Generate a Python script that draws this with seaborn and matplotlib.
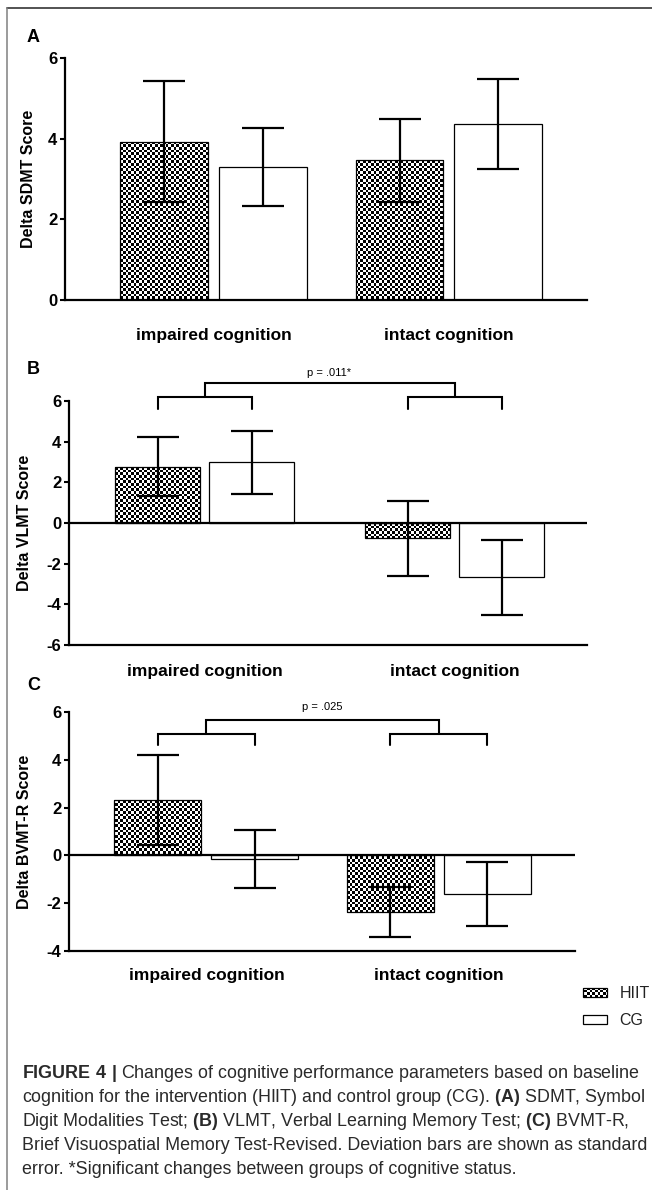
import numpy as np
import pandas as pd
import matplotlib
matplotlib.use("Agg")
import matplotlib.pyplot as plt
from matplotlib.lines import Line2D
from matplotlib.patches import Rectangle
import seaborn as sns

# --- DATA ---
COGNITION = ["impaired cognition", "intact cognition"]
GROUPS = ["HIIT", "CG"]

SDMT_HIIT = [3.92, 3.46]
SDMT_HIIT_SE = [1.50, 1.03]
SDMT_CG = [3.30, 4.36]
SDMT_CG_SE = [0.97, 1.12]

VLMT_HIIT = [2.77, -0.75]
VLMT_HIIT_SE = [1.46, 1.85]
VLMT_CG = [2.98, -2.67]
VLMT_CG_SE = [1.54, 1.83]

BVMT_HIIT = [2.33, -2.38]
BVMT_HIIT_SE = [1.89, 1.05]
BVMT_CG = [-0.15, -1.61]
BVMT_CG_SE = [1.22, 1.33]

Y_LABELS = ["Delta SDMT Score", "Delta VLMT Score", "Delta BVMT-R Score"]
Y_TICKS = [[0, 2, 4, 6], [-6, -4, -2, 0, 2, 4, 6], [-4, -2, 0, 2, 4, 6]]
P_LABELS = [None, "p = .011*", "p = .025"]

CAPTION = [
    r"$\mathbf{FIGURE\ 4\ |}$ Changes of cognitive performance parameters based on baseline",
    r"cognition for the intervention (HIIT) and control group (CG). $\mathbf{(A)}$ SDMT, Symbol",
    r"Digit Modalities Test; $\mathbf{(B)}$ VLMT, Verbal Learning Memory Test; $\mathbf{(C)}$ BVMT-R,",
    r"Brief Visuospatial Memory Test-Revised. Deviation bars are shown as standard",
    r"error. *Significant changes between groups of cognitive status.",
]
# ---------------------

W, H, DPI = 652, 1190, 100

# layout of each panel in figure pixels (left, top, right, bottom)
PANELS = [
    dict(letter="A", letter_y=37, box=(65, 58, 587, 300), ylim=(0, 6), xlim=(-0.63, 1.586),
         width=0.838, gap=0.112, label_x=36, pad=20, bracket=None),
    dict(letter="B", letter_y=370, box=(69, 401, 587, 645), ylim=(-6, 6), xlim=(-0.542, 1.53),
         width=0.752, gap=0.106, label_x=32, pad=13.5,
         bracket=dict(leg=5.6, low=6.19, high=6.88, text=7.38)),
    dict(letter="C", letter_y=685, box=(69, 712, 575, 951), ylim=(-4, 6), xlim=(-0.591, 1.585),
         width=0.834, gap=0.103, label_x=32, pad=12,
         bracket=dict(leg=4.6, low=5.10, high=5.65, text=6.19)),
]
SERIES = [
    (SDMT_HIIT, SDMT_HIIT_SE, SDMT_CG, SDMT_CG_SE),
    (VLMT_HIIT, VLMT_HIIT_SE, VLMT_CG, VLMT_CG_SE),
    (BVMT_HIIT, BVMT_HIIT_SE, BVMT_CG, BVMT_CG_SE),
]

sns.set_theme(style="ticks")
plt.rcParams["font.family"] = ["Liberation Sans", "DejaVu Sans"]
plt.rcParams["axes.unicode_minus"] = False
plt.rcParams["mathtext.fontset"] = "custom"
plt.rcParams["mathtext.rm"] = "Liberation Sans"
plt.rcParams["mathtext.bf"] = "Liberation Sans:bold"


def fig_box(left, top, right, bottom):
    return [left / W, 1 - bottom / H, (right - left) / W, (bottom - top) / H]


fig = plt.figure(figsize=(W / DPI, H / DPI), dpi=DPI)
fig.patch.set_facecolor("white")

# checkerboard texture for the HIIT bars (cells ~2.7 px)
yy, xx = np.mgrid[0:H, 0:W]
checker = ((xx * 3 // 8 + yy * 3 // 8) % 2).astype(float)
hiit_patches = []

for cfg, (hiit, hiit_se, cg, cg_se), ylabel, yticks, ptxt in zip(PANELS, SERIES, Y_LABELS, Y_TICKS, P_LABELS):
    ax = fig.add_axes(fig_box(*cfg["box"]))
    ax.patch.set_visible(False)

    df = pd.DataFrame({
        "cognition": COGNITION * 2,
        "group": ["HIIT"] * 2 + ["CG"] * 2,
        "delta": hiit + cg,
    })
    sns.barplot(data=df, x="cognition", y="delta", hue="group", order=COGNITION,
                hue_order=GROUPS, palette={"HIIT": "white", "CG": "white"}, saturation=1,
                width=cfg["width"], gap=cfg["gap"], errorbar=None, edgecolor="black",
                linewidth=0.9, legend=False, ax=ax)

    centers = []
    for container, means, ses in zip(ax.containers, [hiit, cg], [hiit_se, cg_se]):
        xs = [b.get_x() + b.get_width() / 2 for b in container]
        centers.append(xs)
        ax.errorbar(xs, means, yerr=ses, fmt="none", ecolor="black", elinewidth=1.6,
                    capsize=15, capthick=1.6, zorder=3)
    for b in ax.containers[0]:
        b.set_facecolor("none")
        hiit_patches.append(b)

    ax.set_xlim(*cfg["xlim"])
    ax.set_ylim(*cfg["ylim"])
    ax.set_yticks(yticks)
    ax.set_xlabel("")
    ax.set_ylabel(ylabel, fontsize=11.5, fontweight="bold", color="black")
    l, t, r, b_ = cfg["box"]
    ax.yaxis.set_label_coords((cfg["label_x"] - l) / (r - l), 0.5)
    sns.despine(ax=ax)
    for side in ["left", "bottom"]:
        ax.spines[side].set_linewidth(1.6)
        ax.spines[side].set_color("black")
    if cfg["ylim"][0] < 0:
        ax.axhline(0, color="black", lw=1.6, zorder=4)
    ax.tick_params(axis="y", direction="out", length=3.5, width=1.5, pad=2,
                   labelsize=12, colors="black")
    ax.tick_params(axis="x", length=0, pad=cfg["pad"], labelsize=12.5, colors="black")
    for lab in ax.get_yticklabels() + ax.get_xticklabels():
        lab.set_fontweight("bold")

    if cfg["bracket"] is not None:
        br = cfg["bracket"]
        mids = []
        for i in range(2):
            x0, x1 = centers[0][i], centers[1][i]
            ax.plot([x0, x0, x1, x1], [br["leg"], br["low"], br["low"], br["leg"]],
                    color="black", lw=1.5, clip_on=False, solid_joinstyle="miter")
            mids.append((x0 + x1) / 2)
        ax.plot([mids[0], mids[0], mids[1], mids[1]], [br["low"], br["high"], br["high"], br["low"]],
                color="black", lw=1.5, clip_on=False, solid_joinstyle="miter")
        ax.text(sum(mids) / 2, br["text"], ptxt, ha="center", va="center", fontsize=8,
                color="black", clip_on=False)

    fig.text(27 / W, 1 - cfg["letter_y"] / H, cfg["letter"], fontsize=13, fontweight="bold",
             ha="left", va="center", color="black")

# legend
handles = [Rectangle((0, 0), 1, 1, facecolor="none", edgecolor="black", lw=0.9),
           Rectangle((0, 0), 1, 1, facecolor="white", edgecolor="black", lw=0.9)]
leg = fig.legend(handles, GROUPS, loc="center left", bbox_to_anchor=(583 / W, 1 - 1007 / H),
                 frameon=False, fontsize=11.5, handlelength=1.5, handleheight=0.55,
                 handletextpad=0.8, labelspacing=0.75, borderaxespad=0, borderpad=0)
for txt in leg.get_texts():
    txt.set_color("#222222")

# frame around the figure area
fig.add_artist(Line2D([7 / W, 1], [1 - 8 / H, 1 - 8 / H], color="#444444", lw=1.3))
fig.add_artist(Line2D([7 / W, 7 / W], [0, 1 - 8 / H], color="#808080", lw=1.1))

# caption
for i, line in enumerate(CAPTION):
    fig.text(22 / W, 1 - (1074 + 24 * i) / H, line, fontsize=12.9, ha="left", va="center",
             color="#2a2a2a")

# lay down checker images clipped to HIIT bars (after one draw so legend handles exist)
fig.canvas.draw()
for patch in hiit_patches + [leg.legend_handles[0]]:
    im = fig.figimage(checker, xo=0, yo=0, origin="upper", cmap="gray", vmin=0, vmax=1, zorder=-1)
    im.set_clip_path(patch)

fig.savefig("out.png", dpi=DPI)
